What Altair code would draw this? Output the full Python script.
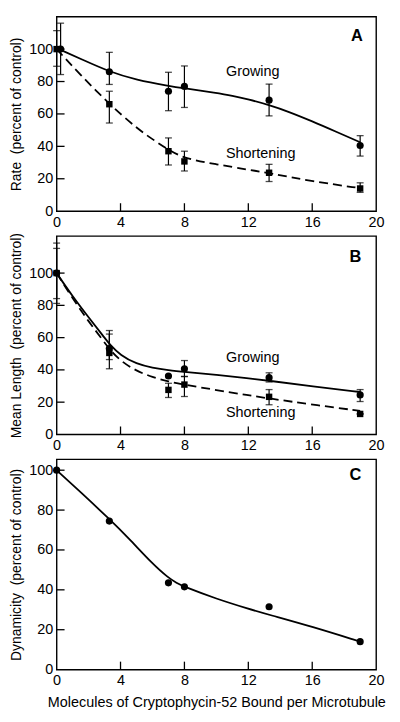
import altair as alt
import pandas as pd

FONT = "Liberation Sans"

# ---------------- Panel A : Rate ----------------
a_x_grow = [0.25, 3.3, 7.0, 8.0, 13.3, 19.0]
a_y_grow = [100, 86, 74, 77, 68.5, 40.5]
a_lo_grow = [84.3, 78.2, 62, 64, 58.8, 34]
a_hi_grow = [116, 98, 85.7, 89.6, 78.4, 46.6]
a_x_short = [0, 3.3, 7.0, 8.0, 13.3, 19.0]
a_y_short = [100, 66, 37, 30.7, 23.7, 14]
a_lo_short = [89.4, 54.4, 28.5, 24.8, 18.3, 11.6]
a_hi_short = [111.4, 74, 45.2, 37, 28.9, 17.5]
a_fit_grow_x = [0.25, 1.5, 3.3, 5, 7, 8, 10, 11, 12, 13.3, 14.5, 16, 17.5, 19]
a_fit_grow_y = [99.5, 94, 86, 81, 77.3, 75.8, 73, 71.3, 69, 65.5, 61.5, 55.5, 49, 42.5]
a_fit_short_x = [0, 1.5, 3.3, 5, 6, 7, 8, 10, 12, 13.3, 16, 19]
a_fit_short_y = [100, 84, 66, 51.3, 44.4, 37.8, 32.5, 28.9, 25.6, 23.5, 18.4, 14.2]
a_label_x = [10.6, 10.6]
a_label_y = [85.7, 35]
a_label_t = ["Growing", "Shortening"]

# ---------------- Panel B : Mean Length ----------------
b_x_grow = [0, 3.3, 7.0, 8.0, 13.3, 19.0]
b_y_grow = [100, 53.2, 36.2, 40.7, 35.2, 24.5]
b_lo_grow = [81.2, 40.7, 36.2, 35.8, 32.5, 20.4]
b_hi_grow = [118.6, 64.4, 36.2, 45.8, 38.2, 27.8]
b_x_short = [0, 3.3, 7.0, 8.0, 13.3, 19.0]
b_y_short = [100, 50.5, 27.6, 30.9, 23.3, 12.7]
b_lo_short = [84.2, 46.4, 22.9, 23.5, 18.4, 12.7]
b_hi_short = [115.3, 62.2, 31.7, 36.0, 27.8, 12.7]
b_fit_x = [0, 1, 2, 3, 3.3, 4, 5, 6, 7, 8, 10, 12, 13.3, 16, 19]
b_fit_grow_y = [100, 85.5, 72.5, 60, 56, 49, 43.7, 41.3, 39.8, 38.8, 37, 34.8, 33.3, 29.8, 26.3]
b_fit_short_y = [100, 84.3, 70, 57, 53, 45.5, 39.3, 35.5, 32.8, 30.8, 27.5, 24.3, 22.3, 18.5, 14.6]
b_label_x = [10.6, 10.6]
b_label_y = [47.4, 13.1]
b_label_t = ["Growing", "Shortening"]

# ---------------- Panel C : Dynamicity ----------------
c_x = [0, 3.3, 7.0, 8.0, 13.3, 19.0]
c_y = [100, 74.5, 43.5, 41.5, 31.5, 14]
c_fit_x = [0, 1.5, 3.3, 4.5, 6, 7, 7.5, 8, 10, 12, 13.3, 16, 19]
c_fit_y = [100, 89, 75.5, 66, 53, 46, 43.5, 41.5, 35.5, 30.5, 27.5, 21.5, 14]

x_ticks = [0, 4, 8, 12, 16, 20]
y_ticks = [0, 20, 40, 60, 80, 100]
inner_x_ticks = [4, 8, 12, 16]
inner_y_ticks = [20, 40, 60, 80, 100]

W = 322


def panel(ymax, h, ytitle, xtitle, letter, letter_xy, series, fits, labels):
    xs = alt.Scale(domain=[0, 20], nice=False, zero=False)
    ys = alt.Scale(domain=[0, ymax], nice=False, zero=False)
    xaxis = alt.Axis(values=x_ticks, ticks=False, tickSize=0, domain=False, grid=False,
                     labelFontSize=14.5, labelPadding=4, labelFlush=False, labelColor="black",
                     titleFontSize=14.5, titleFontWeight="normal", titlePadding=9,
                     titleColor="black", format="d", title=xtitle)
    yaxis = alt.Axis(values=y_ticks, ticks=False, tickSize=0, domain=False, grid=False,
                     labelFontSize=14.5, labelPadding=4, labelColor="black",
                     titleFontSize=14, titleFontWeight="normal", titlePadding=5.5,
                     titleColor="black", format="d", title=ytitle)
    X = alt.X("x:Q", scale=xs, axis=xaxis)
    Y = alt.Y("y:Q", scale=ys, axis=yaxis)

    layers = []
    # fitted curves
    for fx, fy, dashed in fits:
        df = pd.DataFrame({"x": fx, "y": fy})
        mk = dict(color="black", strokeWidth=1.8, interpolate="basis")
        if dashed:
            mk["strokeDash"] = [9, 5]
        layers.append(alt.Chart(df).mark_line(**mk).encode(x=X, y=Y))
    # error bars and points
    for sx, sy, slo, shi, shape in series:
        df = pd.DataFrame({"x": sx, "y": sy, "lo": slo, "hi": shi})
        if slo is not None:
            layers.append(alt.Chart(df).mark_rule(color="black", strokeWidth=1.2).encode(
                x=X, y=alt.Y("lo:Q", scale=ys, axis=yaxis), y2="hi:Q"))
            for col in ["lo", "hi"]:
                layers.append(alt.Chart(df).mark_tick(color="black", orient="horizontal",
                                                      size=7, thickness=1.3).encode(
                    x=X, y=alt.Y(f"{col}:Q", scale=ys, axis=yaxis)))
        layers.append(alt.Chart(df).mark_point(shape=shape, filled=True, color="black",
                                               opacity=1,
                                               size=52 if shape == "circle" else 42).encode(x=X, y=Y))
    # inner ticks
    tx = pd.DataFrame({"x": inner_x_ticks})
    layers.append(alt.Chart(tx).mark_rule(color="black", strokeWidth=1.3).encode(
        x=X, y=alt.value(h), y2=alt.value(h - 8)))
    ty = pd.DataFrame({"y": inner_y_ticks})
    layers.append(alt.Chart(ty).mark_rule(color="black", strokeWidth=1.3).encode(
        y=Y, x=alt.value(0), x2=alt.value(8)))
    # labels
    if labels:
        lx, ly, lt = labels
        df = pd.DataFrame({"x": lx, "y": ly, "t": lt})
        layers.append(alt.Chart(df).mark_text(align="left", baseline="middle", fontSize=14.5,
                                              font=FONT, color="black").encode(x=X, y=Y, text="t:N"))
    df = pd.DataFrame({"x": [letter_xy[0]], "y": [letter_xy[1]], "t": [letter]})
    layers.append(alt.Chart(df).mark_text(align="center", baseline="middle", fontSize=16.5,
                                          fontWeight="bold", font=FONT, color="black").encode(
        x=X, y=Y, text="t:N"))
    return alt.layer(*layers).properties(width=W, height=h)


pa = panel(120, 196, "Rate\u00a0 (percent of control)", None, "A", (18.8, 108.3),
           [(a_x_grow, a_y_grow, a_lo_grow, a_hi_grow, "circle"),
            (a_x_short, a_y_short, a_lo_short, a_hi_short, "square")],
           [(a_fit_grow_x, a_fit_grow_y, False), (a_fit_short_x, a_fit_short_y, True)],
           (a_label_x, a_label_y, a_label_t))
pb = panel(123, 200, "Mean Length\u00a0 (percent of control)", None, "B", (18.7, 109.8),
           [(b_x_grow, b_y_grow, b_lo_grow, b_hi_grow, "circle"),
            (b_x_short, b_y_short, b_lo_short, b_hi_short, "square")],
           [(b_fit_x, b_fit_grow_y, False), (b_fit_x, b_fit_short_y, True)],
           (b_label_x, b_label_y, b_label_t))
pc = panel(105.5, 212, "Dynamicity\u00a0 (percent of control)",
           "Molecules of Cryptophycin-52 Bound per Microtubule", "C", (18.7, 97.5),
           [(c_x, c_y, None, None, "circle")],
           [(c_fit_x, c_fit_y, False)],
           None)

chart = alt.vconcat(pa, pb, pc, spacing=25, bounds="flush").properties(
    padding={"left": 0, "top": 5, "right": 5, "bottom": 2},
    background="white",
).configure(font=FONT).configure_view(stroke="black", strokeWidth=1.4)

chart.save("out.html", embed_options={"renderer": "svg", "actions": False})
